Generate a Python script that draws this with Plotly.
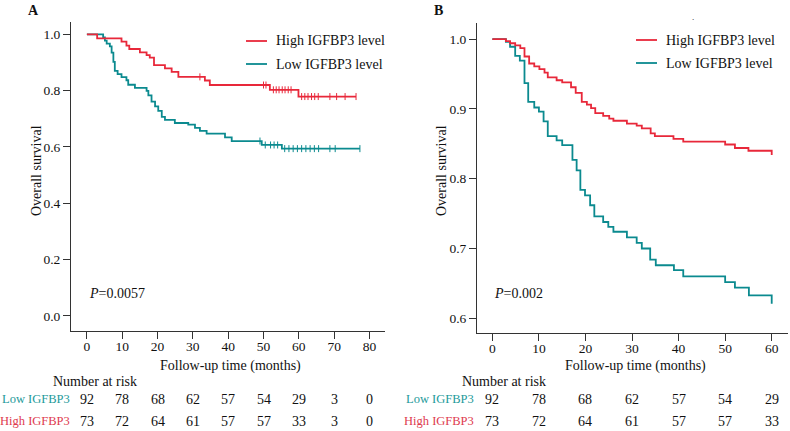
import numpy as np
import plotly.graph_objects as go

W, H = 790, 431
SERIF = "Liberation Serif, Times New Roman, serif"
RED = "#e8283a"
TEAL = "#0b8a8f"
RED_TXT = "#de3a4e"
TEAL_TXT = "#1d9a9a"

# panel A - Kaplan-Meier steps
a_high_t = [0, 2.9, 9.8, 11.2, 12.0, 15.0, 16.9, 17.8, 19.0, 22.1, 24.0, 25.9,
            33.4, 34.8, 51.8, 59.9, 76.2]
a_high_s = [1.0, 0.986, 0.974, 0.960, 0.948, 0.936, 0.926, 0.917, 0.891, 0.879,
            0.867, 0.849, 0.836, 0.820, 0.803, 0.779, 0.779]
a_high_cens = [32.0, 50.0, 50.7, 52.8, 53.6, 54.4, 55.3, 56.1, 57.0, 57.8, 60.8,
               61.7, 62.6, 63.6, 64.5, 65.5, 68.8, 70.7, 73.1, 76.2]

a_low_t = [0, 4.6, 5.1, 5.6, 6.5, 7.0, 7.5, 7.9, 8.7, 9.8, 11.2, 11.7, 13.6, 16.9,
           17.4, 18.3, 19.3, 20.2, 21.2, 22.1, 24.9, 28.7, 30.6, 32.0, 33.9, 39.1,
           41.0, 49.5, 55.2, 77.3]
a_low_s = [1.0, 0.989, 0.978, 0.967, 0.957, 0.935, 0.902, 0.870, 0.859, 0.848,
           0.837, 0.821, 0.810, 0.799, 0.783, 0.761, 0.744, 0.728, 0.707, 0.696,
           0.685, 0.679, 0.668, 0.657, 0.647, 0.634, 0.621, 0.607, 0.594, 0.594]
a_low_cens = [49.0, 50.5, 52.0, 53.0, 54.0, 56.0, 57.2, 58.4, 59.6, 60.8, 62.0,
              63.2, 64.4, 65.6, 68.8, 70.3, 77.3]

# panel B
b_high_t = [0, 2.9, 3.8, 4.9, 6.0, 6.9, 7.9, 9.0, 10.1, 11.2, 11.9, 13.8, 15.0,
            16.9, 17.9, 19.2, 20.3, 21.2, 22.1, 23.8, 25.1, 26.0, 28.9, 31.0,
            32.1, 34.0, 34.9, 38.9, 41.0, 50.0, 52.1, 55.0, 60.0, 60.0]
b_high_s = [1.0, 0.997, 0.994, 0.991, 0.987, 0.975, 0.965, 0.961, 0.957, 0.952,
            0.945, 0.941, 0.938, 0.931, 0.923, 0.910, 0.906, 0.901, 0.894, 0.890,
            0.886, 0.883, 0.879, 0.876, 0.872, 0.865, 0.861, 0.857, 0.853, 0.849,
            0.844, 0.840, 0.840, 0.834]

b_low_t = [0, 2.9, 3.8, 4.9, 5.9, 6.9, 7.7, 9.0, 10.0, 11.0, 11.9, 13.8, 15.0,
           17.2, 18.1, 18.9, 19.9, 21.0, 21.9, 23.8, 24.9, 26.0, 28.9, 31.0,
           32.1, 33.9, 35.1, 39.0, 41.0, 50.0, 52.1, 55.1, 60.0, 60.0]
b_low_s = [1.0, 0.996, 0.989, 0.976, 0.969, 0.937, 0.910, 0.902, 0.896, 0.882,
           0.861, 0.855, 0.848, 0.827, 0.812, 0.784, 0.776, 0.762, 0.746, 0.738,
           0.731, 0.724, 0.716, 0.708, 0.700, 0.684, 0.676, 0.669, 0.660, 0.652,
           0.644, 0.633, 0.633, 0.621]

# number at risk
a_risk_t = [0, 10, 20, 30, 40, 50, 60, 70, 80]
a_risk_low = [92, 78, 68, 62, 57, 54, 29, 3, 0]
a_risk_high = [73, 72, 64, 61, 57, 57, 33, 3, 0]
b_risk_t = [0, 10, 20, 30, 40, 50, 60]
b_risk_low = [92, 78, 68, 62, 57, 54, 29]
b_risk_high = [73, 72, 64, 61, 57, 57, 33]


def px(x):
    return x / W


def py(y):
    return 1 - y / H


def surv_at(times, surv, cens):
    idx = np.searchsorted(np.array(times), np.array(cens), side="right") - 1
    return [surv[i] for i in idx]


fig = go.Figure()


def km(t, s, color, xa, ya, cens=None):
    fig.add_trace(go.Scatter(x=t, y=s, mode="lines", line=dict(color=color, width=1.8, shape="hv"),
                             xaxis=xa, yaxis=ya, showlegend=False, hoverinfo="skip"))
    if cens:
        fig.add_trace(go.Scatter(x=cens, y=surv_at(t, s, cens), mode="markers",
                                 marker=dict(symbol="line-ns", size=5,
                                             line=dict(color=color, width=1)),
                                 xaxis=xa, yaxis=ya, showlegend=False, hoverinfo="skip"))


km(a_low_t, a_low_s, TEAL, "x", "y", a_low_cens)
km(a_high_t, a_high_s, RED, "x", "y", a_high_cens)
km(b_low_t, b_low_s, TEAL, "x2", "y2")
km(b_high_t, b_high_s, RED, "x2", "y2")

axis_common = dict(showline=True, linecolor="#333", linewidth=1, ticks="outside",
                   ticklen=7, tickcolor="#333", showgrid=False, zeroline=False,
                   tickfont=dict(family=SERIF, size=13.5, color="#111"))

fig.update_layout(
    width=W, height=H,
    margin=dict(l=0, r=0, t=0, b=0),
    paper_bgcolor="white", plot_bgcolor="white",
    xaxis=dict(domain=[px(71), px(385)], range=[-4.5, 84.4], tickvals=a_risk_t,
               anchor="y", ticklabelstandoff=-4, **axis_common),
    yaxis=dict(domain=[py(331), py(21.7)], range=[-0.054, 1.045],
               tickvals=[0, 0.2, 0.4, 0.6, 0.8, 1.0], tickformat=".1f",
               anchor="x", **axis_common),
    xaxis2=dict(domain=[px(477), px(788)], range=[-3.3, 63.5], tickvals=b_risk_t,
                anchor="y2", ticklabelstandoff=-4, **axis_common),
    yaxis2=dict(domain=[py(333), py(23)], range=[0.579, 1.023],
                tickvals=[0.6, 0.7, 0.8, 0.9, 1.0], tickformat=".1f",
                anchor="x2", **axis_common),
)

ann = []


def txt(x, y, text, size=14, color="#111", xanchor="center", xref="paper", **kw):
    ann.append(dict(x=x, y=py(y), xref=xref, yref="paper", text=text, showarrow=False,
                    xanchor=xanchor, yanchor="middle",
                    font=dict(family=SERIF, size=size, color=color), **kw))


# panel letters
txt(px(26), 10, "<b>A</b>", size=14, xanchor="left")
txt(px(432), 10, "<b>B</b>", size=14, xanchor="left")
txt(px(693), 17, ".", size=9)

# axis titles
txt(px(36), 171, "Overall survival", textangle=-90)
txt(px(441), 171, "Overall survival", textangle=-90)
txt(px(230), 366, "Follow-up time (months)")
txt(px(635), 366, "Follow-up time (months)")

# p values
txt(0, 293, "<i>P</i>=0.0057", xanchor="left", xref="x")
txt(0, 293, "<i>P</i>=0.002", xanchor="left", xref="x2")

# legends
shapes = []
for x0, x1, y, c in [(246, 267, 41, RED), (246, 267, 64, TEAL),
                     (636, 657, 40, RED), (636, 657, 63, TEAL)]:
    shapes.append(dict(type="line", xref="paper", yref="paper", x0=px(x0), x1=px(x1),
                       y0=py(y), y1=py(y), line=dict(color=c, width=1.8)))
txt(px(274), 41, "High IGFBP3 level", xanchor="left")
txt(px(274), 64, "Low IGFBP3 level", xanchor="left")
txt(px(664), 40, "High IGFBP3 level", xanchor="left")
txt(px(664), 63, "Low IGFBP3 level", xanchor="left")

# number at risk tables
txt(px(51), 381, "Number at risk", xanchor="left")
txt(px(460), 381, "Number at risk", xanchor="left")
txt(px(72), 399, "Low IGFBP3", size=12.5, color=TEAL_TXT, xanchor="right")
txt(px(72), 421, "High IGFBP3", size=12.5, color=RED_TXT, xanchor="right")
txt(px(476), 399, "Low IGFBP3", size=12.5, color=TEAL_TXT, xanchor="right")
txt(px(476), 421, "High IGFBP3", size=12.5, color=RED_TXT, xanchor="right")
for t, lo, hi in zip(a_risk_t, a_risk_low, a_risk_high):
    txt(t, 399, str(lo), xref="x")
    txt(t, 421, str(hi), xref="x")
for t, lo, hi in zip(b_risk_t, b_risk_low, b_risk_high):
    txt(t, 399, str(lo), xref="x2")
    txt(t, 421, str(hi), xref="x2")

fig.update_layout(annotations=ann, shapes=shapes)
# the page's default body margin would push the figure off the window
fig.write_html("out.html", config={"displayModeBar": False},
               post_script="document.body.style.margin='0';")
